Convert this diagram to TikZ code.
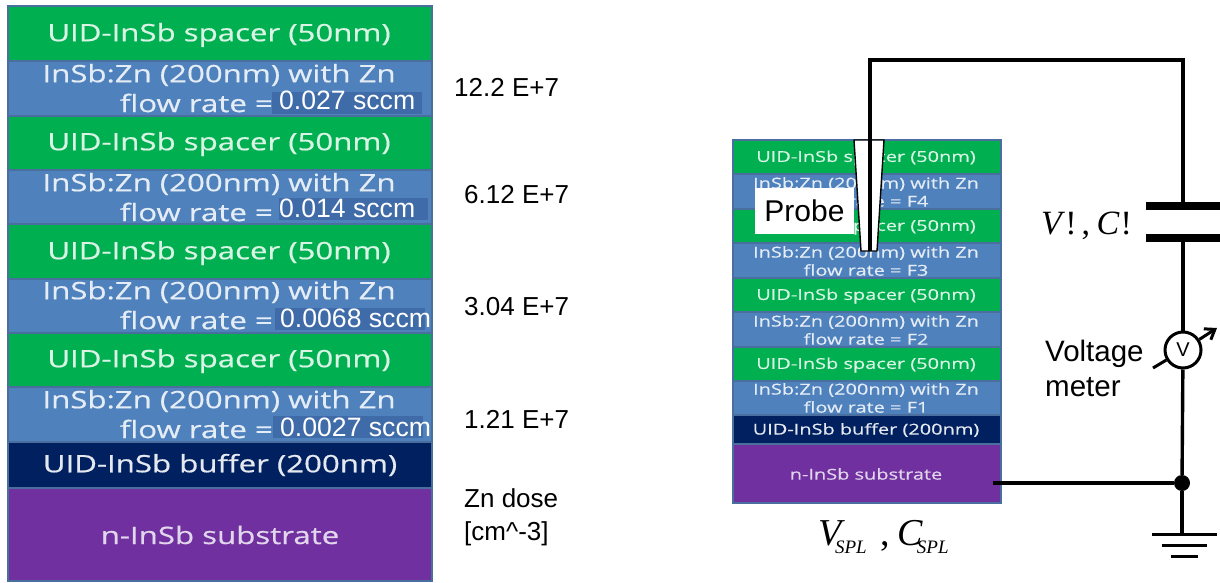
\documentclass[tikz,border=0pt]{standalone}
\usepackage{fontspec}
\usetikzlibrary{arrows.meta}
\setmainfont{Liberation Sans}
\newfontfamily\stackfontA[FakeStretch=1.3,FakeBold=0.6]{Open Sans}
\newfontfamily\stackfontB[FakeStretch=1.33,FakeBold=0.4]{Open Sans}
\newfontfamily\timesfont{Liberation Serif}
\definecolor{lgreen}{HTML}{00B050}
\definecolor{lblue}{HTML}{4F81BD}
\definecolor{lnavy}{HTML}{002060}
\definecolor{lpurple}{HTML}{7030A0}
\definecolor{lborder}{HTML}{4A6F9E}
\definecolor{hilite}{HTML}{3F6BA8}
\tikzset{
  layer/.style={draw=lborder,line width=1.2pt,inner sep=0pt,outer sep=0pt,anchor=north west,text=white,align=center},
  bigtxt/.style={font=\stackfontA\fontsize{24}{30}\selectfont,inner sep=0pt},
  smalltxt/.style={font=\stackfontB\fontsize{15}{18}\selectfont,inner sep=0pt},
  valtxt/.style={anchor=west,inner sep=0pt,text=white,font=\fontsize{26.6}{26.6}\selectfont},
  dose/.style={anchor=west,inner sep=0pt,font=\fontsize{26}{33}\selectfont,align=left},
  wire/.style={line width=3.4pt,black},
  thinwire/.style={line width=3.4pt,black},
  plate/.style={fill=black,inner sep=0pt,minimum width=74pt,minimum height=8pt},
}
\newcommand{\lay}[6]{% name, color, top, height, x, width
  \node[layer,fill=#2,minimum width=#6pt,minimum height=#4pt] (#1) at (#5,#3) {};}
\begin{document}
\begin{tikzpicture}[x=1pt,y=-1pt]
\useasboundingbox (0,0) rectangle (1220,583);
% left stack
\lay{a1}{lgreen}{6}{55}{8}{424}
\lay{a2}{lblue}{61}{55}{8}{424}
\lay{a3}{lgreen}{116}{54}{8}{424}
\lay{a4}{lblue}{170}{54}{8}{424}
\lay{a5}{lgreen}{224}{55}{8}{424}
\lay{a6}{lblue}{279}{54}{8}{424}
\lay{a7}{lgreen}{333}{54}{8}{424}
\lay{a8}{lblue}{387}{55}{8}{424}
\lay{a9}{lnavy}{442}{46}{8}{424}
\lay{a10}{lpurple}{488}{93}{8}{424}
\foreach \n/\y in {a1/35,a3/144,a5/253,a7/361}
  \node[bigtxt,text=white!85!lgreen] (t\n) at (219,\y) {UID-InSb spacer (50nm)};
\foreach \n/\y in {a2/75,a4/184,a6/292,a8/401}
  \node[bigtxt,text=white!85!lblue] (u\n) at (219,\y) {InSb:Zn (200nm) with Zn};
\foreach \n/\y in {a2/103,a4/212,a6/320,a8/429}
  \node[bigtxt,text=white!85!lblue,anchor=east] (v\n) at (273,\y) {flow rate =};
\node[bigtxt,text=white!90!lnavy] (ta9) at (220,465) {UID-InSb buffer (200nm)};
\node[bigtxt,text=white!80!lpurple] (ta10) at (220,535) {n-InSb substrate};
% highlighted values
\fill[hilite] (272,92) rectangle (422,114);
\fill[hilite] (279,198) rectangle (428,220);
\fill[hilite] (275,308) rectangle (425,330);
\fill[hilite] (273,416) rectangle (423,438);
\node[valtxt] (f1) at (279,100) {0.027 sccm};
\node[valtxt] (f2) at (279,208) {0.014 sccm};
\node[valtxt] (f3) at (280,318) {0.0068 sccm};
\node[valtxt] (f4) at (280,427) {0.0027 sccm};
% doses
\node[dose] (d1) at (454,87) {12.2 E+7};
\node[dose] (d2) at (464,195) {6.12 E+7};
\node[dose] (d3) at (464,307) {3.04 E+7};
\node[dose] (d4) at (464,419) {1.21 E+7};
\node[dose] (d5) at (464,517.5) {Zn dose\\{[cm\^{}-3]}};
% right stack
\lay{b1}{lgreen}{140}{34}{733}{268}
\lay{b2}{lblue}{174}{35}{733}{268}
\lay{b3}{lgreen}{209}{34}{733}{268}
\lay{b4}{lblue}{243}{35}{733}{268}
\lay{b5}{lgreen}{278}{34}{733}{268}
\lay{b6}{lblue}{312}{35}{733}{268}
\lay{b7}{lgreen}{347}{34}{733}{268}
\lay{b8}{lblue}{381}{34}{733}{268}
\lay{b9}{lnavy}{415}{29}{733}{268}
\lay{b10}{lpurple}{444}{59}{733}{268}
\foreach \n/\y in {b1/158,b3/227,b5/296,b7/365}
  \node[smalltxt,text=white!85!lgreen] (t\n) at (866,\y) {UID-InSb spacer (50nm)};
\foreach \n/\y/\f in {b2/184/F4,b4/253/F3,b6/322/F2,b8/390/F1}{
  \node[smalltxt,text=white!85!lblue] (u\n) at (866,\y) {InSb:Zn (200nm) with Zn};
  \node[smalltxt,text=white!85!lblue] (v\n) at (866,\y+17) {flow rate = \f};
}
\node[smalltxt,text=white!90!lnavy] (tb9) at (866,430) {UID-InSb buffer (200nm)};
\node[smalltxt,text=white!80!lpurple] (tb10) at (866,474) {n-InSb substrate};
% probe
\node[fill=white,inner sep=0pt,minimum width=99pt,minimum height=46pt,font=\fontsize{30}{30}\selectfont] (probe) at (804.5,211) {\raisebox{-2pt}{Probe}};
\draw[black,line width=1.4pt,fill=white] (854,140) -- (884,140) -- (877,251) -- (861,251) -- cycle;
% circuit
\coordinate (tip) at (870,251);
\coordinate (c1) at (870,60);
\coordinate (c2) at (1183,60);
\coordinate (sub) at (993,483);
\coordinate (gnd) at (1182,534);
\node[plate,anchor=center] (p1) at (1183,206) {};
\node[plate,anchor=center] (p2) at (1183,238) {};
\node[draw=black,line width=3pt,circle,inner sep=0pt,minimum size=36pt,fill=white,font=\fontsize{20}{20}\selectfont] (vm) at (1183,350) {V};
\node[circle,fill=black,inner sep=0pt,minimum size=16pt] (dot) at (1182,483) {};
\draw[wire] (tip) -- (c1) -- (c2) -- (p1.center);
\draw[thinwire] (p2.center) -- (vm);
\draw[thinwire] (vm) -- (dot);
\draw[wire] (sub) -- (dot);
\draw[wire] (dot) -- (gnd);
\coordinate (m1) at (1153,368);
\coordinate (m2) at (1217,328);
\draw[line width=3pt] (m1) -- (vm);
\draw[line width=3pt,-{Straight Barb[length=9pt,width=13pt]}] (vm) -- (m2);
\coordinate (g1a) at (1152,534); \coordinate (g1b) at (1217,534);
\coordinate (g2a) at (1162,545); \coordinate (g2b) at (1207,545);
\coordinate (g3a) at (1171,556); \coordinate (g3b) at (1198,556);
\draw[line width=3pt] (g1a) -- (g1b);
\draw[line width=3pt] (g2a) -- (g2b);
\draw[line width=3pt] (g3a) -- (g3b);
% math labels
\node[anchor=base west,inner sep=0pt,font=\timesfont\fontsize{34}{34}\selectfont] (vc) at (1041,234) {\textit{V}\hspace{0pt}!\hspace{5pt},\hspace{6.5pt}\textit{C}\hspace{1pt}!};
\node[anchor=base west,inner sep=0pt,font=\timesfont\fontsize{38}{38}\selectfont] (vs) at (818,545) {\textit{V}\hspace{-10pt}\raisebox{-8pt}{\fontsize{19}{19}\selectfont\textit{SPL}}\hspace{14pt},\hspace{7pt}\textit{C}\hspace{-6pt}\raisebox{-8pt}{\fontsize{19}{19}\selectfont\textit{SPL}}};
\node[anchor=west,inner sep=0pt,align=left,font=\fontsize{29.5}{35}\selectfont] (vmt) at (1045,368) {Voltage\\meter};
\end{tikzpicture}
\end{document}
